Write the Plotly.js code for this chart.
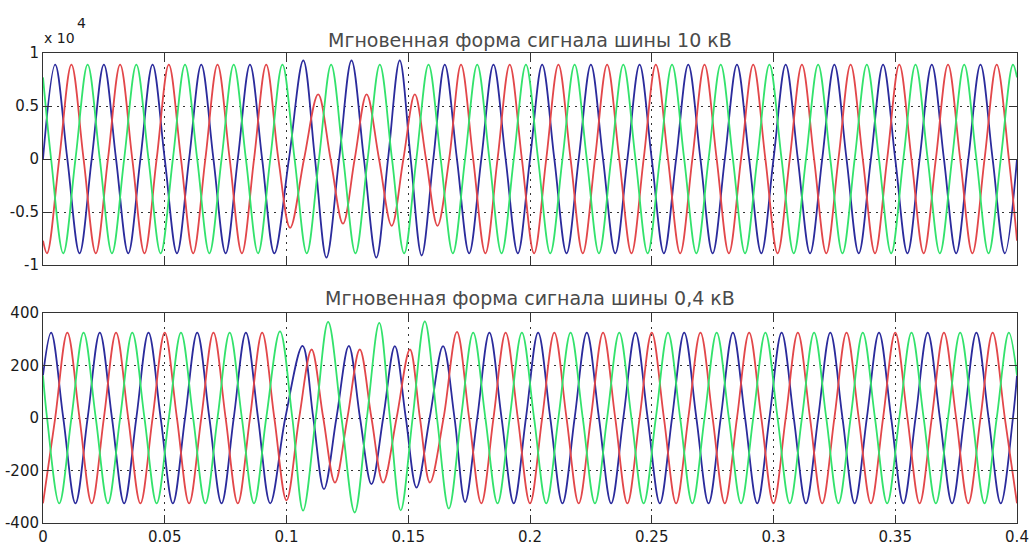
<!DOCTYPE html>
<html>
<head>
<meta charset="utf-8">
<script src="https://cdn.plot.ly/plotly-3.0.1.min.js"></script>
<style>html,body{margin:0;padding:0;background:#fff;}#chart{width:1030px;height:547px;}</style>
</head>
<body>
<div id="chart"></div>
<script>
// ---------- Titles and tick labels ----------
var titleTop = "Мгновенная форма сигнала шины 10 кВ";
var titleBottom = "Мгновенная форма сигнала шины 0,4 кВ";
var xTickVals = [0, 0.05, 0.1, 0.15, 0.2, 0.25, 0.3, 0.35, 0.4];
var xTickLabels = ["0", "0.05", "0.1", "0.15", "0.2", "0.25", "0.3", "0.35", "0.4"];
var yTopTickVals = [-10000, -5000, 0, 5000, 10000];
var yTopTickLabels = ["-1", "-0.5", "0", "0.5", "1"];
var yBotTickVals = [-400, -200, 0, 200, 400];
var yBotTickLabels = ["-400", "-200", "0", "200", "400"];

// ---------- 10 kV bus: extrema / zero crossings (V) ----------
var tTopBlue = [0,0.005,0.01,0.015,0.02,0.025,0.03,0.035,0.04,0.045,0.05,0.055,0.06,0.065,0.07,0.075,0.08,0.085,0.09,0.095,
  0.101,0.1069,0.1117,0.1164,0.1216,0.1267,0.1318,0.1369,0.1417,0.1465,0.151,0.1555,0.1603,0.165,
  0.17,0.175,0.18,0.185,0.19,0.195,0.2,0.205,0.21,0.215,0.22,0.225,0.23,0.235,0.24,0.245,0.25,0.255,0.26,0.265,0.27,0.275,
  0.28,0.285,0.29,0.295,0.3,0.305,0.31,0.315,0.32,0.325,0.33,0.335,0.34,0.345,0.35,0.355,0.36,0.365,0.37,0.375,0.38,0.385,0.39,0.395,0.4];
var vTopBlue = [0,8900,0,-8900,0,8900,0,-8900,0,8900,0,-8900,0,8900,0,-8900,0,8900,0,-8900,
  0,9300,0,-9300,0,9300,0,-9300,0,9300,0,-9100,0,8900,
  0,-8900,0,8900,0,-8900,0,8900,0,-8900,0,8900,0,-8900,0,8900,0,-8900,0,8900,0,-8900,
  0,8900,0,-8900,0,8900,0,-8900,0,8900,0,-8900,0,8900,0,-8900,0,8900,0,-8900,0,8900,0,-8900,0];

var tTopRed = [0,0.00167,0.00667,0.01167,0.01667,0.02167,0.02667,0.03167,0.03667,0.04167,0.04667,0.05167,0.05667,0.06167,0.06667,0.07167,0.07667,0.08167,0.08667,0.09167,0.09667,
  0.1015,0.1072,0.113,0.1181,0.1232,0.128,0.1329,0.138,0.1432,0.148,0.1527,0.1573,0.162,0.1668,
  0.17167,0.17667,0.18167,0.18667,0.19167,0.19667,0.20167,0.20667,0.21167,0.21667,0.22167,0.22667,0.23167,0.23667,0.24167,0.24667,0.25167,0.25667,0.26167,0.26667,
  0.27167,0.27667,0.28167,0.28667,0.29167,0.29667,0.30167,0.30667,0.31167,0.31667,0.32167,0.32667,0.33167,0.33667,0.34167,0.34667,0.35167,0.35667,0.36167,0.36667,
  0.37167,0.37667,0.38167,0.38667,0.39167,0.39667,0.4];
var vTopRed = [-7700,-8900,0,8900,0,-8900,0,8900,0,-8900,0,8900,0,-8900,0,8900,0,-8900,0,8900,0,
  -6500,0,6100,0,-6100,0,6100,0,-6300,0,6100,0,-6300,0,
  8900,0,-8900,0,8900,0,-8900,0,8900,0,-8900,0,8900,0,-8900,0,8900,0,-8900,0,
  8900,0,-8900,0,8900,0,-8900,0,8900,0,-8900,0,8900,0,-8900,0,8900,0,-8900,0,
  8900,0,-8900,0,8900,0,-7700];

var tTopGreen = [0,0.00333,0.00833,0.01333,0.01833,0.02333,0.02833,0.03333,0.03833,0.04333,0.04833,0.05333,0.05833,0.06333,0.06833,0.07333,0.07833,0.08333,0.08833,0.09333,0.09833,
  0.10333,0.10833,0.11333,0.11833,0.12333,0.12833,0.13333,0.13833,0.14333,0.14833,0.15333,0.15833,0.16333,0.16833,0.17333,0.17833,0.18333,0.18833,0.19333,0.19833,
  0.20333,0.20833,0.21333,0.21833,0.22333,0.22833,0.23333,0.23833,0.24333,0.24833,0.25333,0.25833,0.26333,0.26833,0.27333,0.27833,0.28333,0.28833,0.29333,0.29833,
  0.30333,0.30833,0.31333,0.31833,0.32333,0.32833,0.33333,0.33833,0.34333,0.34833,0.35333,0.35833,0.36333,0.36833,0.37333,0.37833,0.38333,0.38833,0.39333,0.39833,0.4];
var vTopGreen = [7700,0,-8900,0,8900,0,-8900,0,8900,0,-8900,0,8900,0,-8900,0,8900,0,-8900,0,8900,
  0,-8900,0,8900,0,-8900,0,8900,0,-8900,0,8900,0,-8900,0,8900,0,-8900,0,8900,
  0,-8900,0,8900,0,-8900,0,8900,0,-8900,0,8900,0,-8900,0,8900,0,-8900,0,8900,
  0,-8900,0,8900,0,-8900,0,8900,0,-8900,0,8900,0,-8900,0,8900,0,-8900,0,8900,7700];

// ---------- 0.4 kV bus: extrema / zero crossings (V) ----------
var tBotBlue = [0,0.00333,0.00833,0.01333,0.01833,0.02333,0.02833,0.03333,0.03833,0.04333,0.04833,0.05333,0.05833,0.06333,0.06833,0.07333,0.07833,0.08333,0.08833,0.09333,
  0.0995,0.1066,0.111,0.1154,0.1205,0.1256,0.1302,0.1349,0.1397,0.1445,0.149,0.1534,0.1588,0.1643,0.169,
  0.17333,0.17833,0.18333,0.18833,0.19333,0.19833,0.20333,0.20833,0.21333,0.21833,0.22333,0.22833,0.23333,0.23833,0.24333,0.24833,0.25333,0.25833,0.26333,0.26833,
  0.27333,0.27833,0.28333,0.28833,0.29333,0.29833,0.30333,0.30833,0.31333,0.31833,0.32333,0.32833,0.33333,0.33833,0.34333,0.34833,0.35333,0.35833,0.36333,0.36833,
  0.37333,0.37833,0.38333,0.38833,0.39333,0.39833,0.4];
var vBotBlue = [162,325,0,-325,0,325,0,-325,0,325,0,-325,0,325,0,-325,0,325,0,-325,
  0,275,0,-271,0,275,0,-252,0,274,0,-265,0,274,0,
  -320,0,325,0,-325,0,325,0,-325,0,325,0,-325,0,325,0,-325,0,325,0,
  -325,0,325,0,-325,0,325,0,-325,0,325,0,-325,0,325,0,-325,0,325,0,
  -325,0,325,0,-325,0,162];

var tBotRed = [0,0.005,0.01,0.015,0.02,0.025,0.03,0.035,0.04,0.045,0.05,0.055,0.06,0.065,0.07,0.075,0.08,0.085,0.09,0.095,0.1,
  0.1052,0.1103,0.1151,0.1199,0.125,0.1301,0.1349,0.1397,0.1452,0.1507,0.1548,0.1589,0.1645,
  0.17,0.175,0.18,0.185,0.19,0.195,0.2,0.205,0.21,0.215,0.22,0.225,0.23,0.235,0.24,0.245,0.25,0.255,0.26,0.265,0.27,0.275,
  0.28,0.285,0.29,0.295,0.3,0.305,0.31,0.315,0.32,0.325,0.33,0.335,0.34,0.345,0.35,0.355,0.36,0.365,0.37,0.375,0.38,0.385,0.39,0.395,0.4];
var vBotRed = [-325,0,325,0,-325,0,325,0,-325,0,325,0,-325,0,325,0,-325,0,325,0,-314,
  0,261,0,-246,0,261,0,-246,0,261,0,-246,0,
  328,0,-325,0,325,0,-325,0,325,0,-325,0,325,0,-325,0,325,0,-325,0,325,0,
  -325,0,325,0,-325,0,325,0,-325,0,325,0,-325,0,325,0,-325,0,325,0,-325,0,325,0,-325];

var tBotGreen = [0,0.00167,0.00667,0.01167,0.01667,0.02167,0.02667,0.03167,0.03667,0.04167,0.04667,0.05167,0.05667,0.06167,0.06667,0.07167,0.07667,0.08167,0.08667,0.09167,0.09733,
  0.1024,0.1068,0.112,0.1171,0.1226,0.128,0.133,0.1381,0.1425,0.1469,0.1518,0.1568,0.1618,0.16667,
  0.17167,0.17667,0.18167,0.18667,0.19167,0.19667,0.20167,0.20667,0.21167,0.21667,0.22167,0.22667,0.23167,0.23667,0.24167,0.24667,0.25167,0.25667,0.26167,0.26667,
  0.27167,0.27667,0.28167,0.28667,0.29167,0.29667,0.30167,0.30667,0.31167,0.31667,0.32167,0.32667,0.33167,0.33667,0.34167,0.34667,0.35167,0.35667,0.36167,0.36667,
  0.37167,0.37667,0.38167,0.38667,0.39167,0.39667,0.4];
var vBotGreen = [162,0,-325,0,325,0,-325,0,325,0,-325,0,325,0,-325,0,325,0,-325,0,330,
  0,-353,0,366,0,-360,0,362,0,-352,0,368,0,-345,
  0,325,0,-325,0,325,0,-325,0,325,0,-325,0,325,0,-325,0,325,0,-325,
  0,325,0,-325,0,325,0,-325,0,325,0,-325,0,325,0,-325,0,325,0,-325,
  0,325,0,-325,0,325,162];

// ---------- styles ----------
var colBlue = "#2b2b9c", colRed = "#e2474a", colGreen = "#33e26c";
function tr(x, y, c, xa, ya) {
  return {x: x, y: y, type: "scatter", mode: "lines", xaxis: xa, yaxis: ya,
          line: {color: c, width: 1.8, shape: "spline", smoothing: 1.0}, hoverinfo: "skip"};
}
var data = [
  tr(tTopBlue, vTopBlue, colBlue, "x", "y"),
  tr(tTopRed, vTopRed, colRed, "x", "y"),
  tr(tTopGreen, vTopGreen, colGreen, "x", "y"),
  tr(tBotBlue, vBotBlue, colBlue, "x2", "y2"),
  tr(tBotRed, vBotRed, colRed, "x2", "y2"),
  tr(tBotGreen, vBotGreen, colGreen, "x2", "y2")
];

var axisCommon = {
  showline: true, linecolor: "#333", linewidth: 1, mirror: "allticks",
  ticks: "inside", ticklen: 8, tickcolor: "#333", tickwidth: 1,
  showgrid: true, gridcolor: "#333", gridwidth: 1, griddash: "2px,5px",
  zeroline: false, tickfont: {family: "DejaVu Sans", size: 15, color: "#1a1a1a"}
};
function ax(extra) { var o = {}; for (var k in axisCommon) o[k] = axisCommon[k]; for (var k2 in extra) o[k2] = extra[k2]; return o; }

var titleFont = {family: "DejaVu Sans", size: 19, color: "#4a4a4a"};
var layout = {
  width: 1030, height: 547,
  margin: {l: 43, r: 13, t: 53, b: 24},
  paper_bgcolor: "#fff", plot_bgcolor: "#fff",
  showlegend: false,
  xaxis: ax({domain: [0, 1], anchor: "y", range: [0, 0.4], tickmode: "array", tickvals: xTickVals, showticklabels: false}),
  yaxis: ax({domain: [0.5489, 1], anchor: "x", range: [-10000, 10000], tickmode: "array", tickvals: yTopTickVals, ticktext: yTopTickLabels}),
  xaxis2: ax({domain: [0, 1], anchor: "y2", range: [0, 0.4], tickmode: "array", tickvals: xTickVals, ticktext: xTickLabels}),
  yaxis2: ax({domain: [0, 0.4468], anchor: "x2", range: [-400, 400], tickmode: "array", tickvals: yBotTickVals, ticktext: yBotTickLabels}),
  annotations: [
    {xref: "paper", yref: "paper", x: 0.5, y: 1.028, text: titleTop, showarrow: false, font: titleFont, xanchor: "center", yanchor: "middle"},
    {xref: "paper", yref: "paper", x: 0.5, y: 0.4787, text: titleBottom, showarrow: false, font: titleFont, xanchor: "center", yanchor: "middle"},
    {xref: "paper", yref: "paper", x: -0.001, y: 1.032, text: "x 10", showarrow: false, font: {family: "DejaVu Sans", size: 14, color: "#1a1a1a"}, xanchor: "left", yanchor: "middle"},
    {xref: "paper", yref: "paper", x: 0.0329, y: 1.0638, text: "4", showarrow: false, font: {family: "DejaVu Sans", size: 14, color: "#1a1a1a"}, xanchor: "left", yanchor: "middle"}
  ]
};

Plotly.newPlot("chart", data, layout, {staticPlot: true, displayModeBar: false});
</script>
</body>
</html>
